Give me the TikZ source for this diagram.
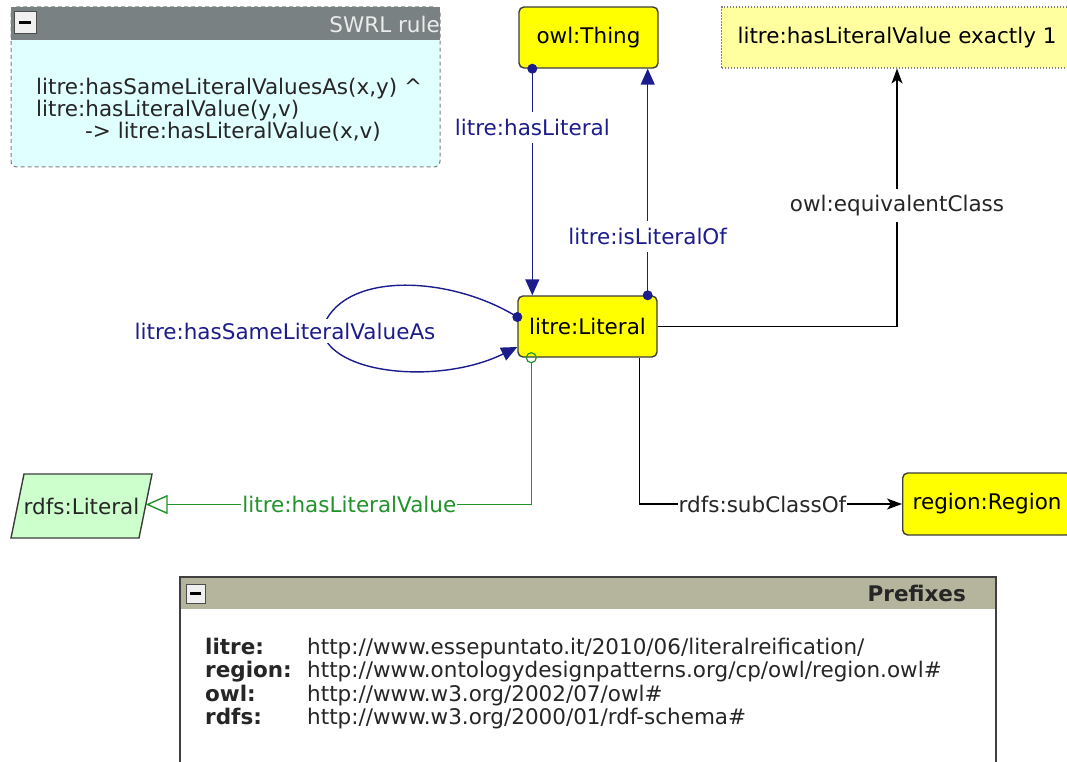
\documentclass[tikz,border=0pt]{standalone}
\usepackage{fontspec}
\setmainfont{DejaVu Sans}
\usetikzlibrary{arrows.meta,calc}

\definecolor{navyline}{HTML}{1C1C8C}
\definecolor{greenline}{HTML}{22922A}
\definecolor{classfill}{HTML}{FFFF00}
\definecolor{classedge}{HTML}{3C3C3C}
\definecolor{restrfill}{HTML}{FFFFA0}
\definecolor{datafill}{HTML}{CCFFCC}
\definecolor{rulefill}{HTML}{E0FFFF}
\definecolor{rulehead}{HTML}{7A8182}
\definecolor{prefhead}{HTML}{B5B49C}
\definecolor{btnfill}{HTML}{F0F0F0}

\newcommand{\labelfont}{\fontsize{21.5}{22}\selectfont}

\begin{document}
\begin{tikzpicture}[x=1pt,y=-1pt,
  every node/.style={font=\labelfont},
  owlclass/.style={draw=classedge, line width=1.4pt, fill=classfill,
    rounded corners=5pt, minimum width=139pt, minimum height=61pt, inner sep=0pt},
  openclass/.style={draw=classedge, line width=1.4pt, fill=classfill,
    rounded corners=5pt, minimum height=62pt, inner xsep=10pt, anchor=west},
  restriction/.style={draw=gray, line width=1.1pt, dash pattern=on 1.5pt off 1.5pt,
    fill=restrfill, minimum height=61pt, inner xsep=16pt, anchor=west},
  datashape/.style={draw=classedge, line width=1.4pt, fill=datafill},
  objprop/.style={draw=navyline, line width=1.4pt},
  dataprop/.style={draw=greenline, line width=1.4pt},
  axiom/.style={draw=black, line width=1.2pt},
  navylabel/.style={fill=white, text=navyline, inner xsep=2pt, inner ysep=7pt},
  greenlabel/.style={fill=white, text=greenline, inner xsep=1pt, inner ysep=5pt},
  blacklabel/.style={fill=white, text=black!85, inner xsep=1pt, inner ysep=6pt},
  filledtip/.style={-{Triangle[length=16pt,width=14pt]}},
  blacktip/.style={-{Stealth[length=15pt,width=11pt,inset=4pt]}},
  hollowtip/.style={-{Triangle[open,length=22pt,width=19pt,fill=white]}},
  ruletext/.style={anchor=base west, inner sep=0pt, text=black!85},
  prefixkey/.style={anchor=base west, inner sep=0pt, font=\labelfont\bfseries, text=black!85},
  prefixval/.style={anchor=base west, inner sep=0pt, text=black!85},
  button/.style={draw=black!70, line width=1pt, fill=btnfill}
]
\useasboundingbox (0,0) rectangle (1067,762);
\clip (0,0) rectangle (1067,762);
\fill[white] (0,0) rectangle (1067,762);

% ---- SWRL rule panel ----
\draw[draw=gray, line width=1pt, dash pattern=on 4pt off 3pt, fill=rulefill,
  rounded corners=6pt] (11,7) rectangle (440,167);
\fill[rulehead] (11,7) rectangle (440,40);
\draw[button] (14,12) rectangle (36,34);
\fill[black] (19,21.5) rectangle (31,24.5);
\node[anchor=east, inner sep=0pt, text=white!92!black] (swrltitle) at (440,24) {SWRL rule};
\node[ruletext] (sw1) at (36,95) {litre:hasSameLiteralValuesAs(x,y) \textasciicircum};
\node[ruletext] (sw2) at (36,117) {litre:hasLiteralValue(y,v)};
\node[ruletext] (sw3) at (85,139) {-{}> litre:hasLiteralValue(x,v)};

% ---- Prefixes panel ----
\draw[draw=black!75, line width=1.4pt, fill=white] (180,577) rectangle (996,780);
\fill[prefhead] (181,578) rectangle (995,609);
\draw[button] (186,584) rectangle (205,603);
\fill[black] (190,592) rectangle (201,595);
\node[anchor=east, inner sep=0pt, font=\labelfont\bfseries, text=black!85] (preftitle) at (966,593) {Prefixes};
\node[prefixkey] (k1) at (205,654) {litre:};
\node[prefixval] (v1) at (307,654) {http://www.essepuntato.it/2010/06/literalreification/};
\node[prefixkey] (k2) at (205,677.5) {region:};
\node[prefixval] (v2) at (307,677.5) {http://www.ontologydesignpatterns.org/cp/owl/region.owl\#};
\node[prefixkey] (k3) at (205,701) {owl:};
\node[prefixval] (v3) at (307,701) {http://www.w3.org/2002/07/owl\#};
\node[prefixkey] (k4) at (205,724.5) {rdfs:};
\node[prefixval] (v4) at (307,724.5) {http://www.w3.org/2000/01/rdf-schema\#};

% ---- classes ----
\node[owlclass] (thing) at (588.5,37.5) {owl:Thing};
\node[owlclass] (lit) at (587.5,326.5) {litre:Literal};
\node[restriction] (exact) at (721,37.5) {litre:hasLiteralValue exactly 1};
\node[openclass] (region) at (902,504) {region:Region};

% ---- datatype: slanted box behind its label ----
\coordinate (rdfsC) at (81.5,506);
\draw[datashape] ($(rdfsC)+(-57.5,-32)$) -- ($(rdfsC)+(70.5,-32)$)
  -- ($(rdfsC)+(57.5,32)$) -- ($(rdfsC)+(-70.5,32)$) -- cycle;
\node[inner sep=0pt, text=black!85] (rdfs) at (rdfsC) {rdfs:Literal};
\coordinate (rdfsR) at ($(rdfsC)+(64.2,-1.5)$);

% ---- connector end points on the class borders ----
\coordinate (hlS) at ($(thing.south west)+(14,0)$);
\coordinate (hlE) at ($(lit.north west)+(15,0)$);
\coordinate (ilS) at ($(lit.north east)+(-10,0)$);
\coordinate (ilE) at ($(thing.south east)+(-11,0)$);
\coordinate (lsS) at ($(lit.west)+(0,-9.5)$);
\coordinate (lsE) at ($(lit.west)+(0,20.5)$);
\coordinate (hvC) at ($(lit.south west)+(14,0)$);
\coordinate (hvS) at ($(hvC)+(0,5)$);
\coordinate (scS) at ($(lit.south east)+(-18,0)$);
\coordinate (ecE) at ($(exact.south west)+(176,0)$);

% ---- object properties ----
\draw[objprop, filledtip] (hlS) -- node[navylabel, pos=0.26] (hllabel) {litre:hasLiteral} (hlE);
\draw[objprop, filledtip] (ilS) -- node[navylabel, pos=0.26] (illabel) {litre:isLiteralOf} (ilE);
\draw[objprop, filledtip] (lsS) .. controls (450,275) and (340,270) .. (322,330)
  .. controls (330,375) and (440,385) .. (lsE);
\node[navylabel, inner ysep=4pt] (lslabel) at (285,331) {litre:hasSameLiteralValueAs};
\fill[navyline] (hlS) circle (5pt);
\fill[navyline] (ilS) circle (5pt);
\fill[navyline] (lsS) circle (5pt);

% ---- data property ----
\draw[dataprop, hollowtip] (hvS) |- node[greenlabel, pos=0.736] (hvlabel) {litre:hasLiteralValue} (rdfsR);
\draw[greenline, line width=1.2pt] (hvC) circle (5pt);

% ---- class axioms ----
\draw[axiom, blacktip] (lit.east) -| node[blacklabel, pos=0.734] (eclabel) {owl:equivalentClass} (ecE);
\draw[axiom, blacktip] (scS) |- node[blacklabel, pos=0.734] (sclabel) {rdfs:subClassOf} (region.west);
\end{tikzpicture}
\end{document}
